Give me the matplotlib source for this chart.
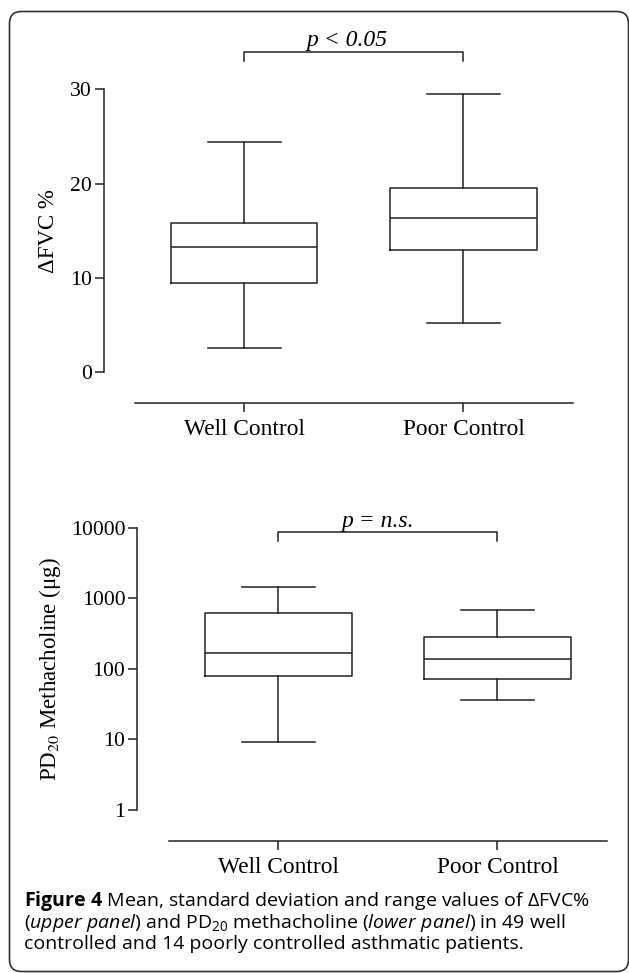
import matplotlib
matplotlib.use("Agg")
import matplotlib.pyplot as plt
from matplotlib.patches import FancyBboxPatch
from matplotlib.ticker import NullLocator

# ---------------- data ----------------
categories = ["Well Control", "Poor Control"]

fvc_min = [2.5, 5.2]
fvc_q1 = [9.45, 12.9]
fvc_med = [13.3, 16.3]
fvc_q3 = [15.85, 19.5]
fvc_max = [24.4, 29.55]

pd20_min = [9.2, 36.0]
pd20_q1 = [79.0, 71.0]
pd20_med = [169.0, 137.0]
pd20_q3 = [625.0, 281.0]
pd20_max = [1430.0, 683.0]

fvc_ticks = [0, 10, 20, 30]
pd20_ticks = [1, 10, 100, 1000, 10000]
fvc_ptext = "p < 0.05"
pd20_ptext = "p = n.s."
fvc_label = "ΔFVC %"
pd20_label = "PD$_{20}$ Methacholine (μg)"
caption_lines = [
    r"$\mathbf{Figure\ 4}$ Mean, standard deviation and range values of ΔFVC%",
    r"($\mathit{upper\ panel}$) and PD$_{20}$ methacholine ($\mathit{lower\ panel}$) in 49 well",
    "controlled and 14 poorly controlled asthmatic patients.",
]

# ---------------- style ----------------
plt.rcParams["font.family"] = ["Liberation Serif", "DejaVu Serif"]
plt.rcParams["mathtext.fontset"] = "custom"
plt.rcParams["mathtext.rm"] = "Open Sans"
plt.rcParams["mathtext.it"] = "Open Sans:italic"
plt.rcParams["mathtext.bf"] = "Open Sans:bold"

LC = "#222222"
LW = 1.1
W, H, DPI = 629, 973, 100
fig = plt.figure(figsize=(W / DPI, H / DPI), dpi=DPI)
fig.patch.set_facecolor("white")

bg = fig.add_axes([0, 0, 1, 1], zorder=0)
bg.set_xlim(0, W)
bg.set_ylim(H, 0)
bg.axis("off")
bg.add_patch(FancyBboxPatch((9.5, 11.5), 628.5 - 9.5, 971.5 - 11.5,
                            boxstyle="round,pad=0,rounding_size=12",
                            fill=False, ec="#333333", lw=1.2))


def px_axes(left, right, top, bottom):
    a = fig.add_axes([left / W, 1 - bottom / H, (right - left) / W, (bottom - top) / H], zorder=2)
    a.patch.set_alpha(0)
    return a


def style_axes(ax):
    for s in ("top", "right"):
        ax.spines[s].set_visible(False)
    for s in ("left", "bottom"):
        ax.spines[s].set_color(LC)
        ax.spines[s].set_linewidth(LW)
    ax.spines["bottom"].set_position(("outward", 22.6))
    ax.spines["bottom"].set_bounds(-0.5, 1.5)
    ax.tick_params(axis="y", length=6.5, width=LW, color=LC, direction="out",
                   pad=2, labelsize=15.6)
    ax.tick_params(axis="x", length=6.5, width=LW, color=LC, direction="out",
                   pad=5, labelsize=16.8)


def draw_box(ax, mins, q1s, meds, q3s, maxs):
    stats = [dict(med=m, q1=a, q3=b, whislo=lo, whishi=hi, fliers=[], label=c)
             for c, lo, a, m, b, hi in zip(categories, mins, q1s, meds, q3s, maxs)]
    lp = dict(color=LC, lw=LW)
    ax.bxp(stats, positions=[0, 1], widths=0.667, capwidths=0.335, showfliers=False,
           boxprops=lp, medianprops=lp, whiskerprops=lp, capprops=lp)


# ---------------- upper panel ----------------
ax1 = px_axes(103.7, 573.0, 89.3, 372.0)
draw_box(ax1, fvc_min, fvc_q1, fvc_med, fvc_q3, fvc_max)
ax1.set_xlim(-0.6425, 1.5)
ax1.set_ylim(0, 30)
ax1.set_yticks(fvc_ticks)
ax1.set_yticklabels([str(t) for t in fvc_ticks])
style_axes(ax1)
ax1.plot([0, 0, 1, 1], [33.0, 34.0, 34.0, 33.0], color=LC, lw=LW, clip_on=False)
ax1.text(0.47, 34.6, fvc_ptext, ha="center", va="baseline", style="italic",
         fontsize=17, color="black")
ax1.set_ylabel(fvc_label, fontsize=16.5, va="center")
ax1.yaxis.set_label_coords(48, 231, transform=bg.transData)

# ---------------- lower panel ----------------
ax2 = px_axes(137.0, 607.0, 527.7, 810.0)
draw_box(ax2, pd20_min, pd20_q1, pd20_med, pd20_q3, pd20_max)
ax2.set_yscale("log")
ax2.set_xlim(-0.646, 1.5)
ax2.set_ylim(1, 10000)
ax2.set_yticks(pd20_ticks)
ax2.set_yticklabels([str(t) for t in pd20_ticks])
ax2.yaxis.set_minor_locator(NullLocator())
style_axes(ax2)
ax2.plot([0, 0, 1, 1], [6450, 8610, 8610, 6450], color=LC, lw=LW, clip_on=False)
ax2.text(0.454, 10300, pd20_ptext, ha="center", va="baseline", style="italic",
         fontsize=17, color="black")
ax2.set_ylabel(pd20_label, fontsize=16.5, va="center", math_fontfamily="stix")
ax2.yaxis.set_label_coords(50, 669, transform=bg.transData)

# ---------------- caption ----------------
for i, line in enumerate(caption_lines):
    bg.text(24, 906 + 21.5 * i, line, fontsize=14.0, family="Open Sans",
            math_fontfamily="custom", va="baseline", ha="left", color="black")

fig.savefig("out.png", dpi=DPI)
